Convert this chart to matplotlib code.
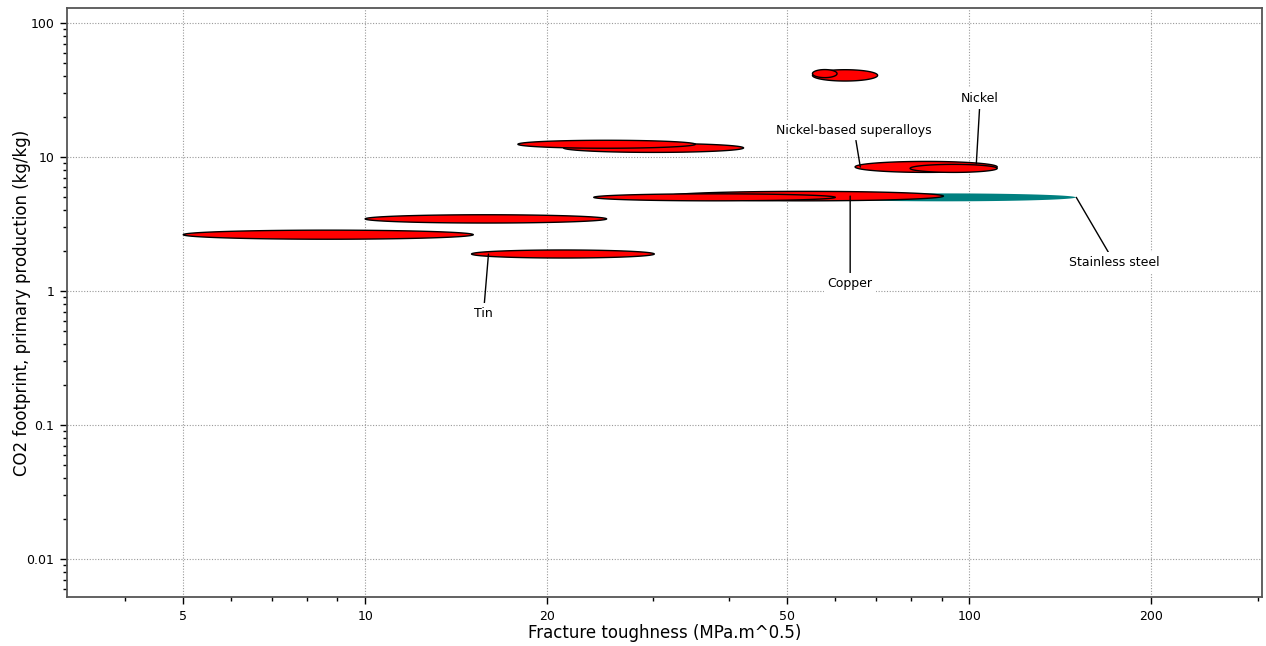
import matplotlib
matplotlib.use("Agg")
import matplotlib.pyplot as plt
import numpy as np
from matplotlib.ticker import FixedLocator, FuncFormatter, NullFormatter

# material bubbles: fracture toughness range (MPa.m^0.5) and CO2 footprint range (kg/kg)
# listed in drawing order (later ones sit on top)
k_low = [55.0, 31.6, 23.9, 21.3, 17.9, 5.0, 10.0, 15.0, 64.7, 79.8, 55.0, 55.0]
k_high = [150.0, 90.6, 60.0, 42.3, 35.2, 15.1, 25.1, 30.1, 111.2, 111.2, 70.5, 60.4]
co2_low = [4.66, 4.70, 4.70, 10.8, 11.6, 2.43, 3.21, 1.76, 7.66, 7.66, 36.8, 39.0]
co2_high = [5.34, 5.53, 5.30, 12.6, 13.3, 2.84, 3.70, 2.02, 9.25, 8.79, 44.7, 44.8]
colors = ["#008080"] + ["#ff0000"] * 11

# labels: text, point on bubble, text position
lab_text = ["Tin", "Copper", "Stainless steel", "Nickel-based superalloys", "Nickel"]
lab_xy = [(16.0, 1.88), (63.5, 5.1), (150.3, 4.99), (66.0, 8.4), (102.7, 8.9)]
lab_pos = [(15.7, 0.68), (63.5, 1.14), (173.8, 1.63), (64.5, 15.8), (104.2, 27.3)]

fig, ax = plt.subplots(figsize=(12.66, 6.46), dpi=100)
fig.subplots_adjust(left=0.0529, right=0.9968, top=0.9876, bottom=0.0754)
ax.set_xscale("log")
ax.set_yscale("log")

t = np.linspace(0, 2 * np.pi, 300)
for i in range(len(k_low)):
    lx = np.log10([k_low[i], k_high[i]])
    ly = np.log10([co2_low[i], co2_high[i]])
    xs = 10 ** (lx.mean() + (lx[1] - lx[0]) / 2 * np.cos(t))
    ys = 10 ** (ly.mean() + (ly[1] - ly[0]) / 2 * np.sin(t))
    if i == 0:
        ax.fill(xs, ys, color=colors[i], lw=0, zorder=3)
    else:
        ax.fill(xs, ys, facecolor=colors[i], edgecolor="black", lw=1, zorder=3)

for txt, xy, pos in zip(lab_text, lab_xy, lab_pos):
    ax.annotate(txt, xy=xy, xytext=pos, ha="center", va="center", fontsize=9,
                bbox=dict(boxstyle="square,pad=0.3", fc="white", ec="none"),
                arrowprops=dict(arrowstyle="-", color="black", lw=1, shrinkA=0, shrinkB=0),
                zorder=4)

ax.set_xlim(3.21, 305)
ax.set_ylim(0.00518, 129)

ax.xaxis.set_major_locator(FixedLocator([5, 10, 20, 50, 100, 200]))
ax.xaxis.set_minor_locator(FixedLocator([3, 4, 6, 7, 8, 9, 30, 40, 60, 70, 80, 90, 300]))
ax.yaxis.set_major_locator(FixedLocator([0.01, 0.1, 1, 10, 100]))
ax.yaxis.set_minor_locator(FixedLocator([m * 10.0 ** e for e in range(-3, 3) for m in range(2, 10)]))
fmt = FuncFormatter(lambda v, _: f"{v:g}")
ax.xaxis.set_major_formatter(fmt)
ax.yaxis.set_major_formatter(fmt)
ax.xaxis.set_minor_formatter(NullFormatter())
ax.yaxis.set_minor_formatter(NullFormatter())
ax.tick_params(which="major", length=5, width=1, labelsize=9, pad=4)
ax.tick_params(which="minor", length=3, width=1)

ax.grid(True, which="major", color="#999999", linestyle=(0, (1, 1.5)), lw=0.8, zorder=0)
ax.set_axisbelow(True)
for s in ax.spines.values():
    s.set_color("#555555")
    s.set_linewidth(1.3)

ax.set_xlabel("Fracture toughness (MPa.m^0.5)", fontsize=12, va="center")
ax.set_ylabel("CO2 footprint, primary production (kg/kg)", fontsize=12, va="center")
ax.xaxis.set_label_coords(0.5, -0.0606)
ax.yaxis.set_label_coords(-0.0377, 0.5)

fig.savefig("out.png", dpi=100)
